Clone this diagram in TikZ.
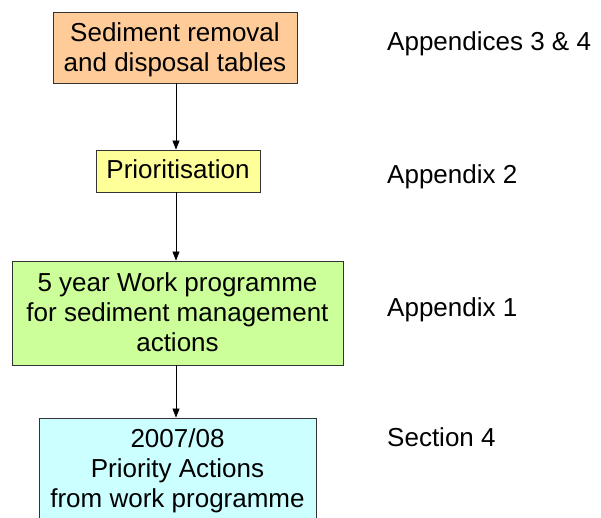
\documentclass[tikz,border=0pt]{standalone}
\usepackage{fontspec}
\setmainfont{Liberation Sans}
\usetikzlibrary{arrows.meta}
\definecolor{boxorange}{HTML}{FFCC99}
\definecolor{boxyellow}{HTML}{FFFF99}
\definecolor{boxgreen}{HTML}{CCFF99}
\definecolor{boxcyan}{HTML}{CCFFFF}
\begin{document}
\begin{tikzpicture}[x=1pt,y=-1pt,
  box/.style={draw=black!80, line width=0.9pt, inner sep=0pt},
  txt/.style={align=center, inner sep=0pt, anchor=base,
    font=\fontsize{26}{30}\selectfont},
  lbl/.style={anchor=base west, inner sep=0pt, font=\fontsize{26}{30}\selectfont},
  conn/.style={-{Triangle[length=9pt,width=7pt]}, line width=0.7pt}]
\useasboundingbox (0,0) rectangle (601,518);
\clip (0,0) rectangle (601,518);
\node[box, fill=boxorange, minimum width=244pt, minimum height=71pt] (b1) at (175,47.5) {};
\node[box, fill=boxyellow, minimum width=164pt, minimum height=42pt] (b2) at (178,171) {};
\node[box, fill=boxgreen, minimum width=331pt, minimum height=104pt] (b3) at (177.5,313) {};
\node[box, fill=boxcyan, minimum width=277pt, minimum height=112pt] (b4) at (177.5,474) {};
\node[txt] (t1) at (175,72) {Sediment removal\\and disposal tables};
\node[txt] (t2) at (178,179) {Prioritisation};
\node[txt] (t3) at (177.5,351) {5 year Work programme\\for sediment management\\actions};
\node[txt] (t4) at (177.5,507) {2007/08\\Priority Actions\\from work programme};
\draw[conn] (b1.south -| 176,0) -- (b2.north -| 176,0);
\draw[conn] (b2.south -| 176,0) -- (b3.north -| 176,0);
\draw[conn] (b3.south -| 176,0) -- (b4.north -| 176,0);
\node[lbl] (l1) at (387,51) {Appendices 3 \& 4};
\node[lbl] (l2) at (387,184) {Appendix 2};
\node[lbl] (l3) at (387,316) {Appendix 1};
\node[lbl] (l4) at (387,446) {Section 4};
\end{tikzpicture}
\end{document}
